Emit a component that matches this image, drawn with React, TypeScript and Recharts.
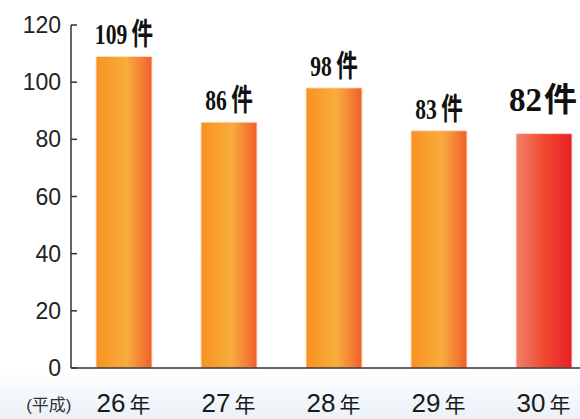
import React from 'react';
import { BarChart, Bar, XAxis, YAxis, Cell, LabelList } from 'recharts';

// 件数（平成26〜30年）
const years = ['26', '27', '28', '29', '30'];
const counts = [109, 86, 98, 83, 82];
const yTicks = [0, 20, 40, 60, 80, 100, 120];
const eraLabel = '(平成)';
const yearUnit = '年';
const countUnit = '件';

const data = years.map((y, i) => ({ year: y, count: counts[i] }));

const sansFont = "'Liberation Sans', 'Noto Sans CJK JP', sans-serif";
const serifFont = "'Liberation Serif', 'Noto Sans CJK JP', serif";

const YTick = (props: any) => {
  const { x, y, payload } = props;
  return (
    <g>
      <line x1={x + 10} y1={y} x2={x + 16} y2={y} stroke="#333" strokeWidth={1.5} />
      <text x={x} y={y + 8} textAnchor="end" fontFamily={sansFont} fontSize={23} fill="#222">
        {payload.value}
      </text>
    </g>
  );
};

const XTick = (props: any) => {
  const { x, y, payload, index } = props;
  return (
    <g>
      {index === 0 && (
        <text x={x - 52} y={y + 43} textAnchor="end" fontFamily={sansFont} fontSize={17} fill="#333">
          {eraLabel}
        </text>
      )}
      <text x={x} y={y + 44} textAnchor="middle" fontFamily={sansFont} fill="#1a1a1a">
        <tspan fontSize={26}>{payload.value}</tspan>
        <tspan dx={4} fontSize={21}>{yearUnit}</tspan>
      </text>
    </g>
  );
};

const ValueLabel = (props: any) => {
  const { x, y, width, value, index } = props;
  const big = index === counts.length - 1;
  const cx = x + width / 2;
  const ty = y - (big ? 23 : 12);
  return (
    <text
      transform={`translate(${cx - (big ? 1 : 0)},${ty}) scale(${big ? 1 : 0.72},1)`}
      textAnchor="middle"
      fontFamily={serifFont}
      fontWeight="bold"
      fontSize={big ? 33 : 30}
      fill="#111"
    >
      <tspan>{value}</tspan>
      <tspan dx={big ? 2 : 6}>{countUnit}</tspan>
    </text>
  );
};

export default function App() {
  return (
    <div
      style={{
        position: 'absolute',
        left: 0,
        top: 0,
        width: 580,
        height: 419,
        overflow: 'hidden',
        background: 'linear-gradient(to bottom, #ffffff 0%, #ffffff 88%, #eaf1f8 100%)',
      }}
    >
      <BarChart width={596} height={419} data={data} margin={{ top: 25, right: 0, bottom: 0, left: 12 }}>
        <defs>
          <linearGradient id="gOrange" x1="0" y1="0" x2="1" y2="0">
            <stop offset="0%" stopColor="#F7921F" />
            <stop offset="55%" stopColor="#F9AC3E" />
            <stop offset="100%" stopColor="#F15E2C" />
          </linearGradient>
          <linearGradient id="gRed" x1="0" y1="0" x2="1" y2="0">
            <stop offset="0%" stopColor="#F2806C" />
            <stop offset="50%" stopColor="#F04A30" />
            <stop offset="100%" stopColor="#E81E25" />
          </linearGradient>
        </defs>
        <XAxis
          dataKey="year"
          height={51}
          tickSize={0}
          tickMargin={0}
          tickLine={false}
          axisLine={{ stroke: '#333', strokeWidth: 1.5 }}
          tick={<XTick />}
          interval={0}
        />
        <YAxis
          width={59}
          domain={[0, 120]}
          ticks={yTicks}
          interval={0}
          tickSize={0}
          tickMargin={10}
          tickLine={false}
          axisLine={{ stroke: '#333', strokeWidth: 1.5 }}
          tick={<YTick />}
        />
        <Bar dataKey="count" barSize={56} stroke="#FDDCC4" strokeWidth={1} isAnimationActive={false}>
          {data.map((d, i) => (
            <Cell key={d.year} fill={i === data.length - 1 ? 'url(#gRed)' : 'url(#gOrange)'} />
          ))}
          <LabelList dataKey="count" content={<ValueLabel />} />
        </Bar>
      </BarChart>
    </div>
  );
}
